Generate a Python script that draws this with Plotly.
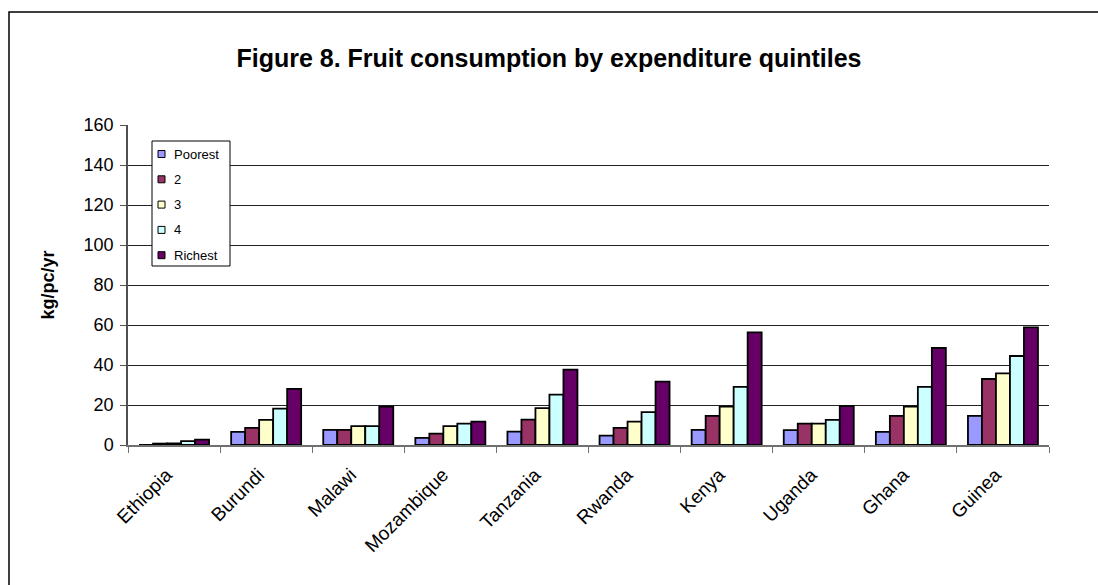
import plotly.graph_objects as go

# Fruit consumption (kg per capita per year) by expenditure quintile
countries = ["Ethiopia", "Burundi", "Malawi", "Mozambique", "Tanzania",
             "Rwanda", "Kenya", "Uganda", "Ghana", "Guinea"]

poorest = [0.0, 6.6, 7.6, 3.6, 6.7, 4.7, 7.6, 7.4, 6.6, 14.6]
q2 = [0.7, 8.6, 7.6, 5.7, 12.7, 8.6, 14.6, 10.7, 14.6, 33.0]
q3 = [0.8, 12.6, 9.4, 9.4, 18.4, 11.7, 19.2, 10.7, 19.2, 35.8]
q4 = [1.9, 18.2, 9.4, 10.7, 25.2, 16.4, 29.1, 12.6, 29.1, 44.5]
richest = [2.7, 28.1, 19.2, 11.7, 37.7, 31.7, 56.3, 19.4, 48.5, 58.8]

series_names = ["Poorest", "2", "3", "4", "Richest"]
series_values = [poorest, q2, q3, q4, richest]
series_colors = ["#9999FF", "#993366", "#FFFFCC", "#CCFFFF", "#660066"]

y_ticks = [0, 20, 40, 60, 80, 100, 120, 140, 160]

FONT = "Arial, Liberation Sans, sans-serif"

fig = go.Figure()

for name, vals, col in zip(series_names, series_values, series_colors):
    fig.add_trace(go.Bar(
        x=countries, y=vals, name=name,
        marker=dict(color=col, line=dict(color="#000000", width=1.8)),
        showlegend=False,
    ))

L, R, T, B = 128, 49, 125, 140
W, H = 1098, 585
pw, ph = W - L - R, H - T - B


def px_x(x):
    return (x - L) / pw


def px_y(y):
    return (H - B - y) / ph


# frame around the whole chart
shapes = [dict(
    type="rect", xref="paper", yref="paper",
    x0=px_x(9), y0=px_y(620), x1=px_x(1120), y1=px_y(12),
    line=dict(color="#000000", width=1.5), fillcolor="rgba(0,0,0,0)",
    layer="below",
)]
annotations = []

# boxed key in the upper left of the plot area
key_left, key_top, key_right, key_bottom = 152, 141, 230, 266
key_row0, key_step = 154, 25.3
shapes.append(dict(
    type="rect", xref="paper", yref="paper",
    x0=px_x(key_left), x1=px_x(key_right),
    y0=px_y(key_bottom), y1=px_y(key_top),
    line=dict(color="#000000", width=1), fillcolor="white", layer="above",
))
for i, (name, col) in enumerate(zip(series_names, series_colors)):
    cy = key_row0 + i * key_step
    shapes.append(dict(
        type="rect", xref="paper", yref="paper",
        x0=px_x(158), x1=px_x(165), y0=px_y(cy + 3.5), y1=px_y(cy - 3.5),
        line=dict(color="#000000", width=1), fillcolor=col, layer="above",
    ))
    annotations.append(dict(
        text=name, xref="paper", yref="paper",
        x=px_x(172), y=px_y(cy), xanchor="left", yanchor="middle",
        showarrow=False, font=dict(size=13, family=FONT, color="#000000"),
    ))

fig.update_layout(
    width=W, height=H,
    margin=dict(l=L, r=R, t=T, b=B, autoexpand=False),
    paper_bgcolor="white", plot_bgcolor="white",
    font=dict(family=FONT, color="#000000"),
    barmode="group", bargap=0.24, bargroupgap=0.0,
    showlegend=False,
    title=dict(
        text="<b>Figure 8. Fruit consumption by expenditure quintiles</b>",
        x=0.5, xref="container", xanchor="center",
        y=1 - 58 / H, yref="container", yanchor="middle",
        font=dict(size=25, family=FONT, color="#000000"),
    ),
    shapes=shapes,
    annotations=annotations,
)

# rotated category labels, padded so their ends sit just left of the centre
fig.update_xaxes(
    type="category",
    tickvals=countries,
    ticktext=[c + "\u00a0\u00a0" for c in countries],
    showline=True, linecolor="#707070", linewidth=1.5,
    ticks="outside", tickson="boundaries", ticklen=6, tickcolor="#707070",
    tickangle=-45, tickfont=dict(size=19, family=FONT),
    ticklabelstandoff=2,
    showgrid=False, automargin=False,
)

fig.update_yaxes(
    range=[0, 160], tickvals=y_ticks,
    showline=True, linecolor="#505050", linewidth=1.5,
    ticks="outside", ticklen=6, tickcolor="#505050",
    tickfont=dict(size=18, family=FONT),
    ticklabelstandoff=3,
    showgrid=True, gridcolor="#222222", gridwidth=1,
    zeroline=False,
    title=dict(text="<b>kg/pc/yr</b>", font=dict(size=18, family=FONT), standoff=24),
    automargin=False,
)

fig.write_html("out.html")
